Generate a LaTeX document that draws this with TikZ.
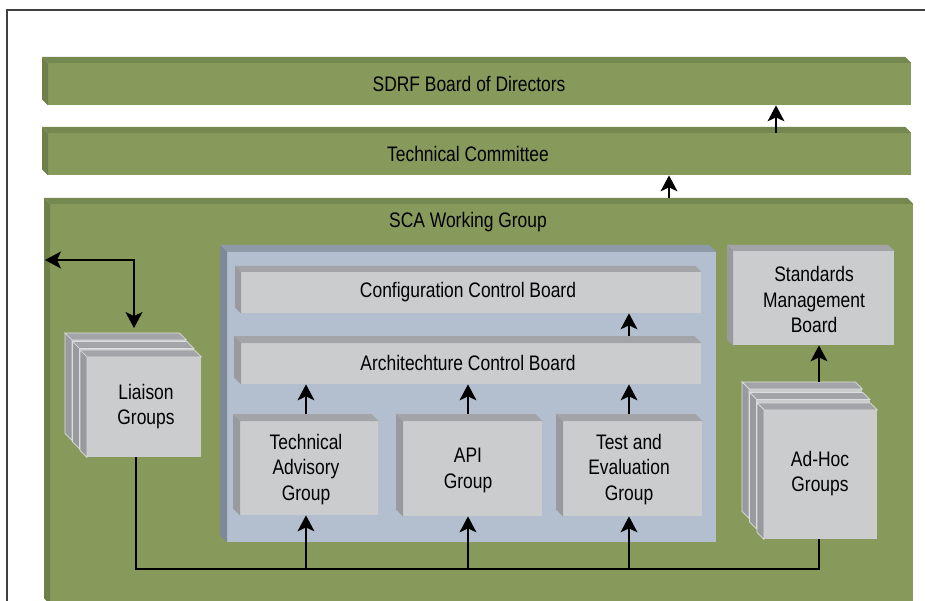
\documentclass[tikz,border=0pt]{standalone}
\usepackage{fontspec}
\setmainfont{Liberation Sans}[FakeStretch=0.83]
\usetikzlibrary{arrows.meta}
\definecolor{gfront}{HTML}{879A5C}
\definecolor{gtop}{HTML}{758850}
\definecolor{gside}{HTML}{6E7F4A}
\definecolor{bfront}{HTML}{B3BFCF}
\definecolor{btop}{HTML}{8F9AA9}
\definecolor{bside}{HTML}{7E8997}
\definecolor{cfront}{HTML}{CBCCCE}
\definecolor{ctop}{HTML}{A3A4A7}
\definecolor{cside}{HTML}{999A9D}
\definecolor{cline}{HTML}{DCDDDE}
\definecolor{framec}{HTML}{404040}
% #1 node, #2 depth, #3 top colour, #4 side colour, #5 extra style
\newcommand\bevelbox[5]{%
  \filldraw[#3,#5] (#1.north west) -- ([shift={(-#2,-#2)}]#1.north west) -- ([shift={(-#2,-#2)}]#1.north east) -- (#1.north east) -- cycle;
  \filldraw[#4,#5] (#1.north west) -- ([shift={(-#2,-#2)}]#1.north west) -- ([shift={(-#2,-#2)}]#1.south west) -- (#1.south west) -- cycle;}
\begin{document}
\begin{tikzpicture}[x=1pt,y=-1pt,
  base/.style={rectangle, anchor=north west, inner sep=0pt},
  gbar/.style={base, fill=gfront},
  bpanel/.style={base, fill=bfront},
  cbox/.style={base, fill=cfront},
  lbl/.style={inner sep=0pt, align=center, yshift=-1.5pt, font=\fontsize{21}{25.7}\selectfont, text=black},
  wire/.style={line width=1.3pt, black},
  arr/.style={wire, -{Stealth[length=16pt,width=17pt,inset=4pt]}},
  darr/.style={wire, {Stealth[length=16pt,width=17pt,inset=4pt]}-{Stealth[length=16pt,width=17pt,inset=4pt]}}
]
\useasboundingbox (0,0) rectangle (925,601);
\fill[white] (0,0) rectangle (925,601);
\draw[framec, line width=2pt] (7,601) -- (7,10) -- (926,10);

% green bars
\node[gbar, minimum width=863pt, minimum height=42pt] (sdrf) at (48,63) {};
\bevelbox{sdrf}{6}{gtop}{gside}{draw=none}
\node[lbl] (sdrfT) at (469,82) {SDRF Board of Directors};
\node[gbar, minimum width=863pt, minimum height=42pt] (tc) at (48,133) {};
\bevelbox{tc}{6}{gtop}{gside}{draw=none}
\node[lbl] (tcT) at (468,152) {Technical Committee};
\node[gbar, minimum width=863pt, minimum height=400pt] (sca) at (50,204) {};
\bevelbox{sca}{6}{gtop}{gside}{draw=none}
\node[lbl] (scaT) at (468,221) {SCA Working Group};

% blue panel
\node[bpanel, minimum width=489pt, minimum height=290pt] (panel) at (227,252) {};
\bevelbox{panel}{7}{btop}{bside}{draw=none}

% boards
\node[cbox, minimum width=460pt, minimum height=41pt] (ccb) at (241,272) {};
\bevelbox{ccb}{6}{ctop}{cside}{draw=none}
\node[lbl] (ccbT) at (468,291) {Configuration Control Board};
\node[cbox, minimum width=460pt, minimum height=41pt] (acb) at (241,343) {};
\bevelbox{acb}{7}{ctop}{cside}{draw=none}
\node[lbl] (acbT) at (468,361) {Architechture Control Board};

\node[cbox, minimum width=138pt, minimum height=94pt] (tag) at (240,421) {};
\bevelbox{tag}{7}{ctop}{cside}{draw=none}
\node[lbl] (tagT) at (306,468) {Technical\\Advisory\\Group};
\node[cbox, minimum width=139pt, minimum height=95pt] (api) at (403,421) {};
\bevelbox{api}{7}{ctop}{cside}{draw=none}
\node[lbl] (apiT) at (468,469) {API\\Group};
\node[cbox, minimum width=139pt, minimum height=95pt] (teg) at (563,421) {};
\bevelbox{teg}{7}{ctop}{cside}{draw=none}
\node[lbl] (tegT) at (629,468) {Test and\\Evaluation\\Group};

\node[cbox, minimum width=161pt, minimum height=94pt] (smb) at (733,251) {};
\bevelbox{smb}{6}{ctop}{cside}{draw=none}
\node[lbl] (smbT) at (814,298) {Standards\\Management\\Board};

% liaison stack
\node[cbox, minimum width=114pt, minimum height=100pt] (lia1) at (72,340) {};
\bevelbox{lia1}{7}{ctop}{cside}{draw=cline,line width=0.7pt}
\node[cbox, minimum width=114pt, minimum height=100pt] (lia2) at (79.5,348.5) {};
\bevelbox{lia2}{7}{ctop}{cside}{draw=cline,line width=0.7pt}
\node[cbox, minimum width=114pt, minimum height=100pt] (lia3) at (87,357) {};
\bevelbox{lia3}{7}{ctop}{cside}{draw=cline,line width=0.7pt}
\node[lbl] (lia3T) at (146,405) {Liaison\\Groups};

% ad-hoc stack
\node[cbox, minimum width=113pt, minimum height=129pt] (adh1) at (749,389) {};
\bevelbox{adh1}{7}{ctop}{cside}{draw=cline,line width=0.7pt}
\node[cbox, minimum width=113pt, minimum height=129pt] (adh2) at (756.5,399.5) {};
\bevelbox{adh2}{7}{ctop}{cside}{draw=cline,line width=0.7pt}
\node[cbox, minimum width=113pt, minimum height=129pt] (adh3) at (764,410) {};
\bevelbox{adh3}{7}{ctop}{cside}{draw=cline,line width=0.7pt}
\node[lbl] (adh3T) at (820,472) {Ad-Hoc\\Groups};

% connector positions
\coordinate (x1) at (776,0);
\coordinate (x2) at (669,0);
\coordinate (x3) at (629,0);
\coordinate (xt) at (306,0);
\coordinate (xa) at (468,0);
\coordinate (xe) at (629,0);
\coordinate (xl) at (136,0);
\coordinate (xl2) at (134,0);
\coordinate (xad) at (819,0);
\coordinate (yb) at (0,569);
\coordinate (lp) at (45,260);

% connectors
\draw[arr] (tc.north -| x1) -- (sdrf.south -| x1);
\draw[arr, shorten <=6pt] (sca.north -| x2) -- (tc.south -| x2);
\draw[arr, shorten <=7pt] (acb.north -| x3) -- (ccb.south -| x3);
\draw[arr, shorten <=7pt] (tag.north -| xt) -- (acb.south -| xt);
\draw[arr, shorten <=7pt] (api.north -| xa) -- (acb.south -| xa);
\draw[arr, shorten <=7pt] (teg.north -| xe) -- (acb.south -| xe);
\draw[arr, shorten <=7pt] (adh1.north -| xad) -- (smb.south -| xad);
\draw[darr, shorten >=12pt] (lp) -| (lia1.north -| xl2);
\draw[wire] (lia3.south -| xl) |- (yb -| xad) -- (adh3.south -| xad);
\draw[arr] (yb -| xt) -- (tag.south -| xt);
\draw[arr] (yb -| xa) -- (api.south -| xa);
\draw[arr] (yb -| xe) -- (teg.south -| xe);
\end{tikzpicture}
\end{document}
